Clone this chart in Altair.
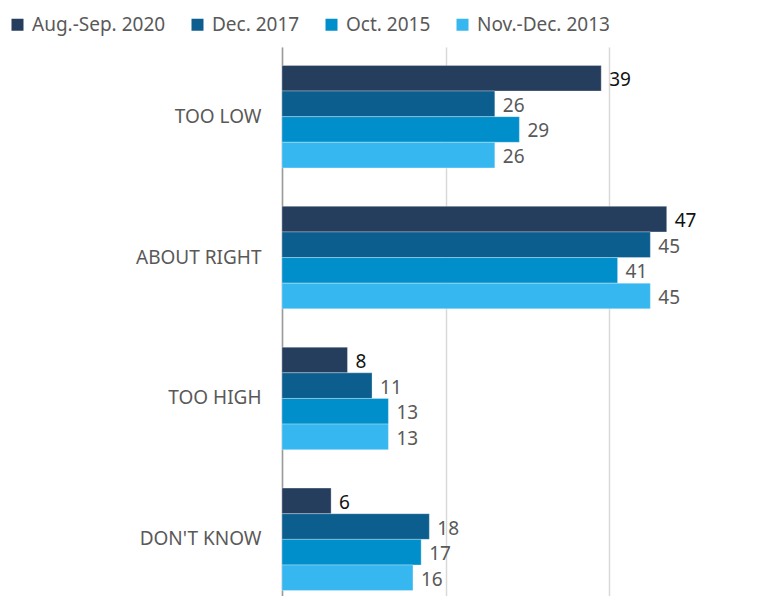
import altair as alt
import pandas as pd

categories = ["TOO LOW", "ABOUT RIGHT", "TOO HIGH", "DON'T KNOW"]
series = ["Aug.-Sep. 2020", "Dec. 2017", "Oct. 2015", "Nov.-Dec. 2013"]
colors = ["#263E5E", "#0C5E8E", "#008FCB", "#37B7EF"]

v_2020 = [39, 47, 8, 6]
v_2017 = [26, 45, 11, 18]
v_2015 = [29, 41, 13, 17]
v_2013 = [26, 45, 13, 16]

rows = []
for s, vals in zip(series, [v_2020, v_2017, v_2015, v_2013]):
    for c, v in zip(categories, vals):
        rows.append({"cat": c, "series": s, "value": v})
df = pd.DataFrame(rows)

FONT = "Noto Sans"
GRAY = "#595959"
FS = 19

base = alt.Chart(df).encode(
    y=alt.Y(
        "cat:N",
        sort=categories,
        scale=alt.Scale(paddingInner=0.2725, paddingOuter=0.1306),
        axis=alt.Axis(
            title=None,
            ticks=False,
            labelPadding=21,
            labelFontSize=FS,
            labelFont=FONT,
            labelColor=GRAY,
            domainColor="#9a9a9a",
            domainWidth=1.5,
        ),
    ),
    yOffset=alt.YOffset(
        "series:N", sort=series, scale=alt.Scale(paddingInner=0, paddingOuter=0)
    ),
    x=alt.X(
        "value:Q",
        scale=alt.Scale(domain=[0, 56.93], nice=False),
        axis=alt.Axis(
            values=[0, 20, 40],
            labels=False,
            ticks=False,
            domain=False,
            grid=True,
            gridColor="#d9d9d9",
            gridWidth=1.5,
            title=None,
        ),
    ),
)

bars = base.mark_bar(stroke="white", strokeWidth=0.6, strokeOpacity=0.5).encode(
    color=alt.Color(
        "series:N",
        sort=series,
        scale=alt.Scale(domain=series, range=colors),
        legend=alt.Legend(
            title=None,
            orient="none",
            direction="horizontal",
            legendX=-274,
            legendY=-32,
            columnPadding=22,
            labelOffset=5,
            symbolType="square",
            symbolSize=144,
            symbolStrokeWidth=0,
            labelFontSize=FS,
            labelFont=FONT,
            labelColor=GRAY,
            labelLimit=0,
        ),
    )
)

labels = base.mark_text(
    align="left", baseline="middle", dx=8, dy=2, fontSize=FS, font=FONT
).encode(
    text="value:Q",
    color=alt.condition(
        alt.datum.series == "Aug.-Sep. 2020", alt.value("#111111"), alt.value(GRAY)
    ),
)

chart = (
    alt.layer(bars, labels)
    .properties(
        width=466,
        height=562,
        autosize=alt.AutoSizeParams(type="none"),
        padding={"left": 274, "top": 39, "right": 0, "bottom": -13},
    )
    .configure_view(stroke=None)
)

chart.save("out.html", embed_options={"renderer": "svg", "actions": False})
